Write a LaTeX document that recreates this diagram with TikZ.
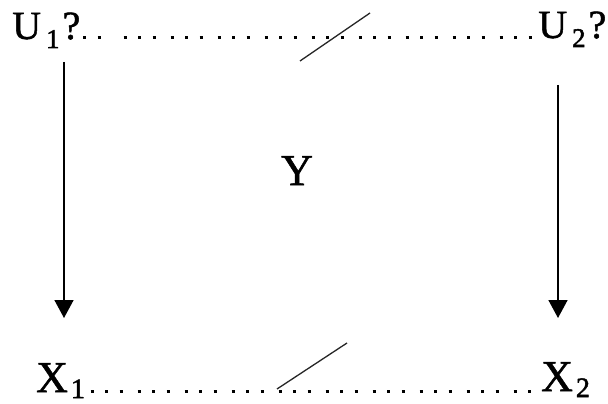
\documentclass[tikz,border=0pt]{standalone}
\usepackage{fontspec}
\setmainfont{Liberation Serif}
\newfontfamily\tnr{Liberation Serif}
\usetikzlibrary{arrows.meta}
\newcommand\heavy[1]{\special{pdf:literal direct 2 Tr 0.5 w}#1\special{pdf:literal direct 0 Tr}}
\newcommand\ulab[2]{\heavy{\tnr\fontsize{40}{40}\selectfont U\hspace{5pt}\raisebox{-9pt}{\fontsize{27}{27}\selectfont #1}\hspace{3pt}#2}}
\newcommand\xlab[1]{\heavy{\tnr\fontsize{44}{44}\selectfont X\hspace{3pt}\raisebox{-6pt}{\fontsize{28}{28}\selectfont #1}}}
\begin{document}
\begin{tikzpicture}[x=1pt,y=-1pt,
  lbl/.style={inner sep=0pt, anchor=base west, font=\tnr},
  arr/.style={line width=1.6pt, -{Triangle[length=18pt,width=19pt]}},
  dotline/.style={line width=3.2pt, dash pattern=on 3.2pt off 11.3pt on 3.2pt off 11.3pt on 3.2pt off 14.8pt},
  slash/.style={line width=1.3pt, black!85}]
\useasboundingbox[fill=white] (0,0) rectangle (608,404);
\node[lbl] (U1) at (12,39) {\ulab{1}{?}};
\node[lbl] (U2) at (538,38) {\ulab{2}{?}};
\node[lbl] (Y) at (281,185) {\heavy{\tnr\fontsize{44}{44}\selectfont Y}};
\node[lbl] (X1) at (36,392) {\xlab{1}};
\node[lbl] (X2) at (541,391) {\xlab{2}};
% dotted rows
\coordinate (ta) at (68.5,37.5);
\coordinate (tb) at (101,37.5);
\coordinate (tc) at (123.5,37.5);
\coordinate (td) at (532,37.5);
\draw[dotline] (ta) -- (tb);
\draw[dotline] (tc) -- (td);
\coordinate (ba) at (90.5,391.5);
\coordinate (bb) at (540,391.5);
\draw[dotline] (ba) -- (bb);
% slashes
\coordinate (s1a) at (300,61);
\coordinate (s1b) at (370,13);
\coordinate (s2a) at (277,389);
\coordinate (s2b) at (347,343);
\draw[slash] (s1a) -- (s1b);
\draw[slash] (s2a) -- (s2b);
% arrows
\coordinate (a1s) at (64,62);
\coordinate (a1e) at (64,318);
\coordinate (a2s) at (558,85);
\coordinate (a2e) at (558,318);
\draw[arr] (a1s) -- (a1e);
\draw[arr] (a2s) -- (a2e);
\end{tikzpicture}
\end{document}
